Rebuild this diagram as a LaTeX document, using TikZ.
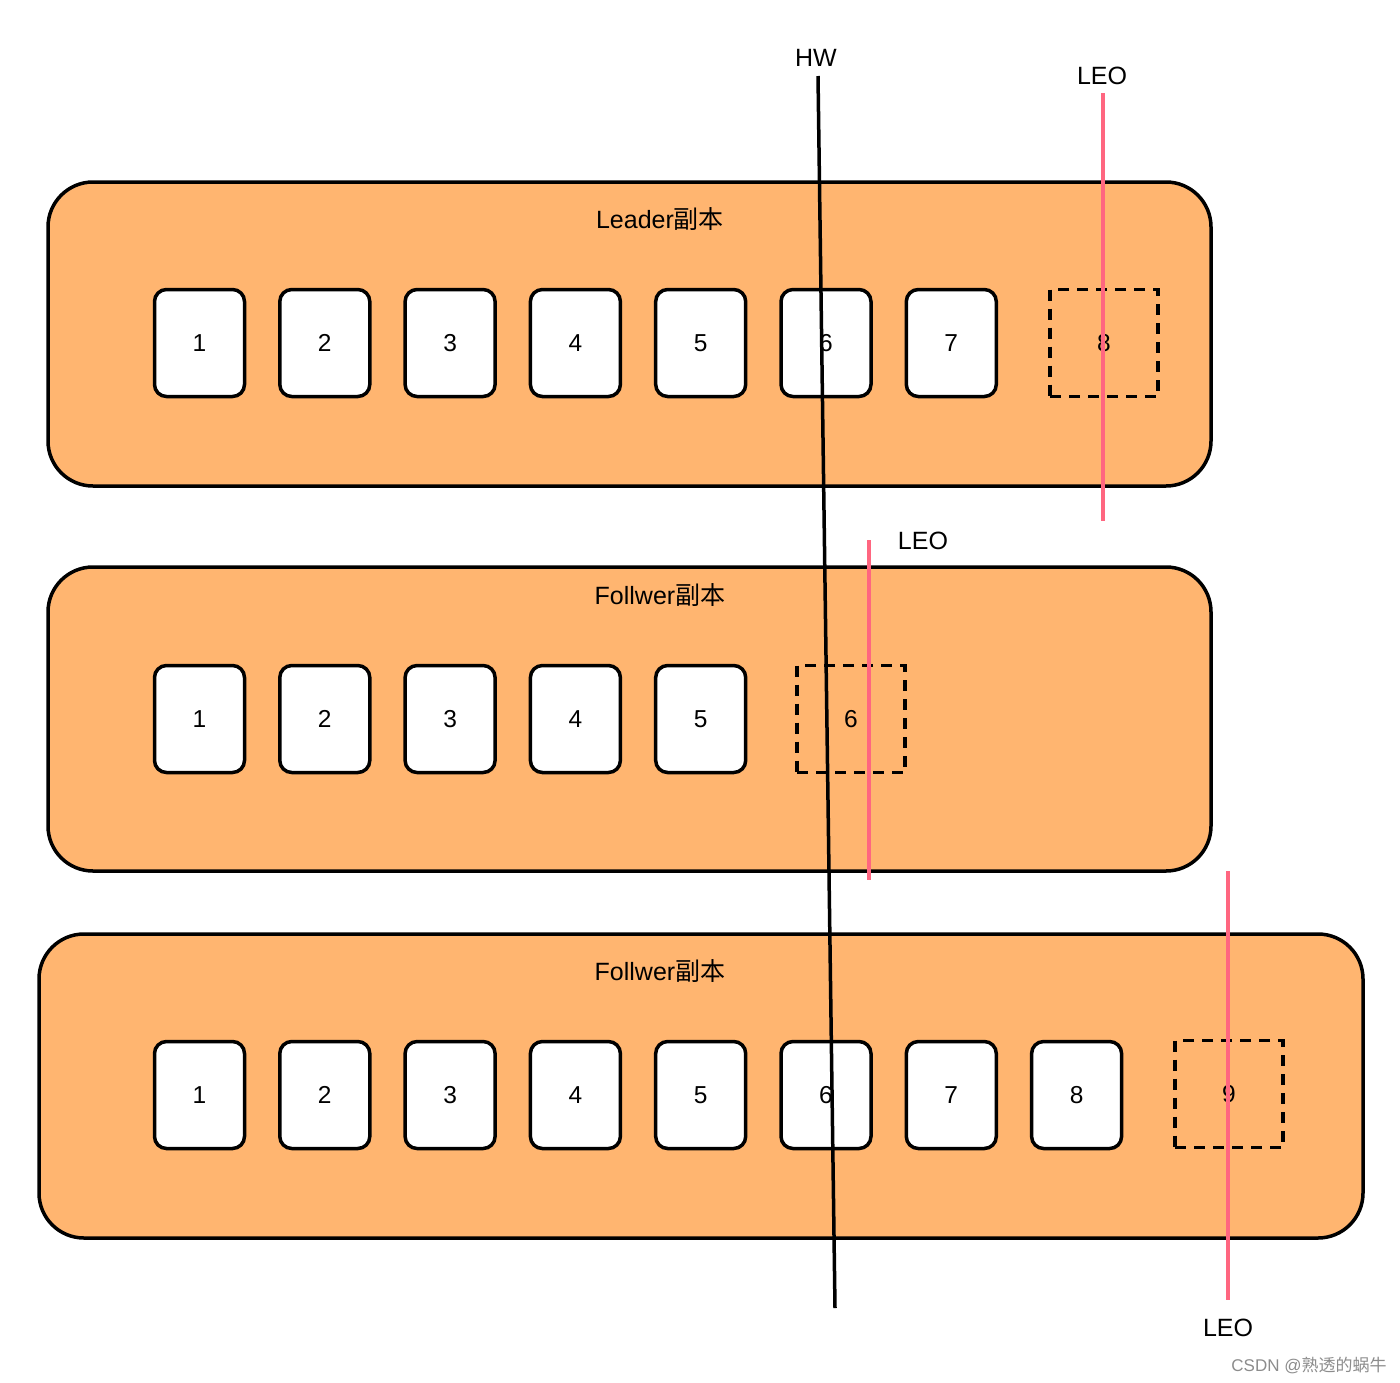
\documentclass[tikz,border=0pt]{standalone}
\usepackage{fontspec}
\setmainfont{Liberation Sans}
\newfontfamily\cjk{Noto Sans CJK SC}
\begin{document}
\begin{tikzpicture}[x=1pt,y=-1pt,
  panel/.style={draw=black,line width=3.5pt,fill=orangefill,rounded corners=45pt,minimum height=304pt,inner sep=0pt},
  cell/.style={draw=black,line width=3.5pt,fill=white,rounded corners=12pt,minimum width=90pt,minimum height=107pt,inner sep=0pt,font=\fontsize{24.5}{28}\selectfont},
  pending/.style={draw=black,line width=3.5pt,dash pattern=on 11pt off 8pt,minimum width=108pt,minimum height=107pt,inner sep=0pt,font=\fontsize{24.5}{28}\selectfont},
  title/.style={font=\fontsize{25}{29}\selectfont,inner sep=0pt},
  lbl/.style={font=\fontsize{25}{29}\selectfont,inner sep=0pt},
  hwline/.style={draw=black,line width=3.5pt},
  leoline/.style={draw=leopink,line width=3.5pt}]
\definecolor{orangefill}{HTML}{FFB570}
\definecolor{leopink}{HTML}{FF6680}
\useasboundingbox (0,0) rectangle (1400,1382);
% panels
\node[panel,minimum width=1163pt] (p1) at (629.5,334) {};
\node[panel,minimum width=1163pt] (p2) at (629.5,719) {};
\node[panel,minimum width=1324pt] (p3) at (701,1086) {};
\node[title] (t1) at (660,219) {Leader{\cjk 副本}};
\node[title] (t2) at (660,595) {Follwer{\cjk 副本}};
\node[title] (t3) at (660,971) {Follwer{\cjk 副本}};
% row 1
\foreach \i in {1,...,7}{
  \node[cell] (a\i) at ({199.5+125.3*(\i-1)},343) {\i};
}
\node[pending] (a8) at (1104,343) {8};
% row 2
\foreach \i in {1,...,5}{
  \node[cell] (b\i) at ({199.5+125.3*(\i-1)},719) {\i};
}
\node[pending] (b6) at (851,719) {6};
% row 3
\foreach \i in {1,...,8}{
  \node[cell] (c\i) at ({199.5+125.3*(\i-1)},1095) {\i};
}
\node[pending] (c9) at (1229,1094) {9};
% HW line
\node[lbl] (hw) at (816,58) {HW};
\coordinate (hwtop) at (818,76);
\coordinate (hwbot) at (835,1308);
\draw[hwline] (hwtop) -- (hwbot);
% LEO lines
\node[lbl] (leo1) at (1102,76) {LEO};
\coordinate (l1top) at (1103,93);
\coordinate (l1bot) at (1103,521);
\draw[leoline] (l1top) -- (l1bot);
\node[lbl] (leo2) at (923,541) {LEO};
\coordinate (l2top) at (869,540);
\coordinate (l2bot) at (869,880);
\draw[leoline] (l2top) -- (l2bot);
\node[lbl] (leo3) at (1228,1328) {LEO};
\coordinate (l3top) at (1228,871);
\coordinate (l3bot) at (1228,1300);
\draw[leoline] (l3top) -- (l3bot);
% watermark
\node[font=\fontsize{17}{19}\selectfont,text=black!45,inner sep=0pt] (wm) at (1309,1365) {CSDN @{\cjk 熟透的蜗牛}};
\end{tikzpicture}
\end{document}
